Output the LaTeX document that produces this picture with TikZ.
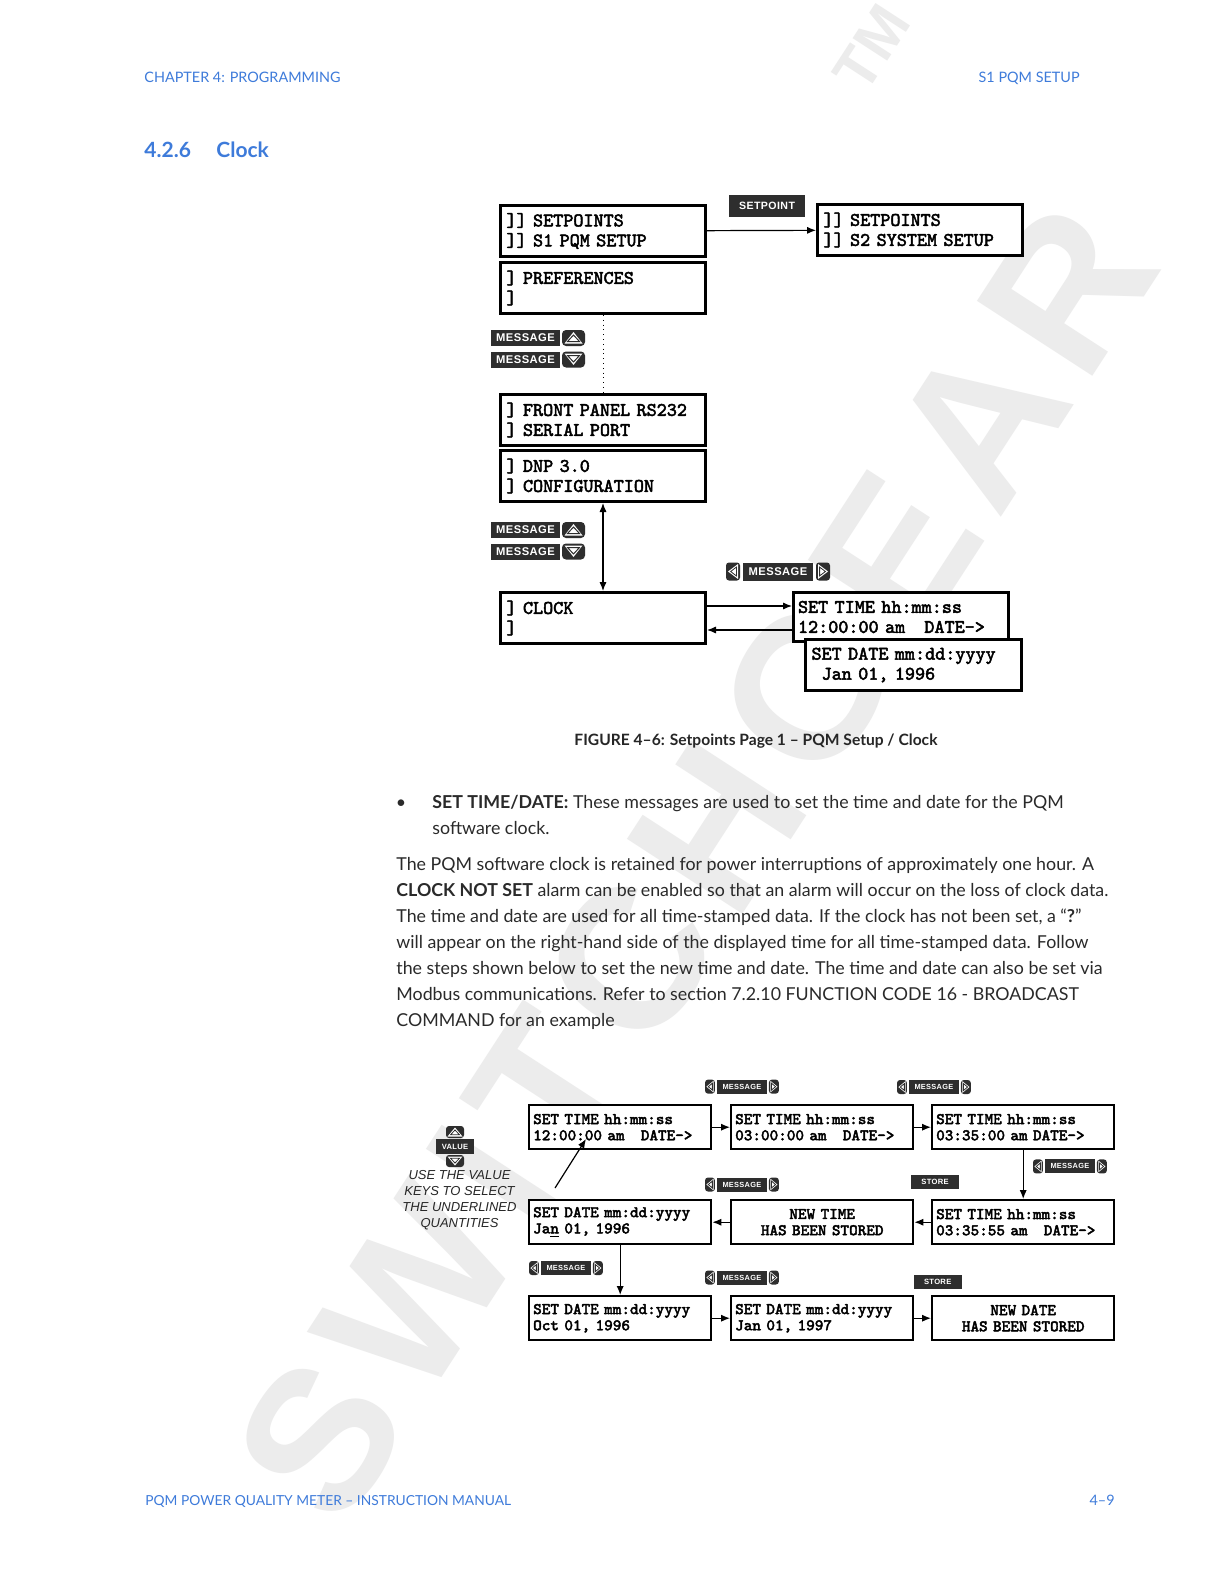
\documentclass[tikz,border=0pt]{standalone}
\usepackage{fontspec}
\setmainfont{Lato}
\newfontfamily\lcdfont{Latin Modern Mono}[FakeBold=2.6]
\newfontfamily\keyfont{Liberation Sans}[LetterSpace=4]
\newfontfamily\hintfont{Liberation Sans}
\usetikzlibrary{arrows.meta, positioning, calc}

\begin{document}
\begin{tikzpicture}[
    x=0.5pt, y=-0.5pt,
    every node/.style={inner sep=0pt},
    lcd/.style={draw=black, line width=1.5pt, fill=white, anchor=north west,
        align=left, font=\lcdfont\fontsize{9.6}{10}\selectfont,
        minimum width=102.5pt, minimum height=25.5pt, text width=96.5pt},
    lcdsmall/.style={lcd, line width=1.2pt,
        font=\lcdfont\fontsize{8.1}{8.1}\selectfont,
        minimum width=91pt, minimum height=22pt, text width=87pt},
    keylabel/.style={text=white, font=\keyfont\bfseries\fontsize{5.6}{5.6}\selectfont},
    keybox/.style={keylabel, fill=keyfill},
    arr/.style={line width=0.6pt, -{Latex[length=4.5pt, width=3.6pt]}},
    pagehead/.style={text=headblue, font=\fontsize{7.2}{9}\selectfont},
    body/.style={text=bodytext, font=\fontsize{8.9}{13}\selectfont},
]

\definecolor{headblue}{HTML}{3E7BDA}
\definecolor{keyfill}{HTML}{2E2E2E}
\definecolor{bodytext}{HTML}{2A2A2A}
\definecolor{wmgray}{HTML}{ECECEC}

% ================================================================
% Page in pixels of the 1224 x 1584 scan, y running down.
%   top figure    boxes x = 499 .. 704, keys to the left at x = 491
%   bottom figure three columns x = 528 / 730 / 931, rows y = 1104 / 1199 / 1295
% ================================================================

% MESSAGE up / down pair, #1 name, #2 x, #3 y of the upper label
\newcommand{\updownkeys}[3]{%
\begin{scope}[shift={(#2,#3)}]
  \foreach \k/\dy in {up/0, dn/21.5} {
    \fill[keyfill] (0,\dy) rectangle ++(69,16);
    \node[keylabel] (#1-\k) at (34.5,\dy+8) {MESSAGE};
    \fill[keyfill, rounded corners=2pt] (71,\dy) rectangle ++(23,16);
  }
  \fill[white] (73.5,13.5) -- (91.5,13.5) -- (82.5,2) -- cycle;
  \draw[keyfill, line width=0.5pt] (76.5,11.5) -- (88.5,11.5) -- (82.5,5) -- cycle;
  \fill[white] (73.5,23.5) -- (91.5,23.5) -- (82.5,35) -- cycle;
  \draw[keyfill, line width=0.5pt] (76.5,25.5) -- (88.5,25.5) -- (82.5,32) -- cycle;
\end{scope}}

% MESSAGE left / right key, #1 name, #2 x, #3 y, #4 scaling, #5 font size
\newcommand{\lrkeys}[5]{%
\begin{scope}[shift={(#2,#3)}, #4]
  \fill[keyfill, rounded corners=1.5pt] (0,0) rectangle (14,18);
  \fill[keyfill, rounded corners=1.5pt] (90,0) rectangle (104,18);
  \fill[keyfill] (17,0) rectangle (87,18);
  \fill[white] (2,9) -- (12,1.5) -- (12,16.5) -- cycle;
  \draw[keyfill, line width=0.4pt] (4.6,9) -- (10.4,4.6) -- (10.4,13.4) -- cycle;
  \fill[white] (102,9) -- (92,1.5) -- (92,16.5) -- cycle;
  \draw[keyfill, line width=0.4pt] (99.4,9) -- (93.6,4.6) -- (93.6,13.4) -- cycle;
  \node[keylabel, font=\keyfont\bfseries\fontsize{#5}{#5}\selectfont] (#1) at (52,9) {MESSAGE};
\end{scope}}

\fill[white] (0,0) rectangle (1224,1584);
\useasboundingbox (0,0) rectangle (1224,1584);

% ---------------------------------------------------------------- watermark
\node[rotate=57, text=wmgray,
      font=\hintfont\bfseries\fontsize{100}{100}\selectfont\addfontfeatures{LetterSpace=8}]
    (wmark) at (695,862) {SWITCHGEAR};
\node[rotate=57, text=wmgray, font=\hintfont\bfseries\fontsize{30}{30}\selectfont]
    (wmtm) at (872,48) {TM};

% ---------------------------------------------------------------- page head
\node[pagehead, anchor=base west] (chap) at (144,82.5) {CHAPTER 4: PROGRAMMING};
\node[pagehead, anchor=base east] (sect) at (1080,82.5) {S1 PQM SETUP};
\node[text=headblue, font=\bfseries\fontsize{10.5}{12}\selectfont, anchor=base west]
    (secnum) at (144,157.5) {4.2.6};
\node[text=headblue, font=\bfseries\fontsize{10.5}{12}\selectfont, anchor=base west]
    (sectitle) at (216,157.5) {Clock};

% ---------------------------------------------------------------- top figure
\node[lcd] (setp1) at (499,204) {]] SETPOINTS\\]] S1 PQM SETUP};
\node[lcd] (pref)  at (499,261) {] PREFERENCES\\]};
\node[lcd] (setp2) at (816,203) {]] SETPOINTS\\]] S2 SYSTEM SETUP};
\node[lcd] (front) at (499,393) {] FRONT PANEL RS232\\] SERIAL PORT};
\node[lcd] (dnp)   at (499,449) {] DNP 3.0\\] CONFIGURATION};
\node[lcd] (clock) at (499,591) {] CLOCK\\]};
\node[lcd, minimum width=107.5pt, minimum height=24.5pt, text width=103pt]
    (settime) at (792,591) {SET TIME hh:mm:ss\\12:00:00 am\ \ \ DATE->};
\node[lcd, minimum width=108pt, text width=102pt]
    (setdate) at (804,638) {SET DATE mm:dd:yyyy\\\phantom{J}Jan 01, 1996};

\node[keybox, minimum width=38pt, minimum height=11pt,
      font=\keyfont\bfseries\fontsize{5.3}{5.3}\selectfont] (setpkey) at (767,206) {SETPOINT};
\updownkeys{keysA}{491}{330}
\updownkeys{keysB}{491}{522}
\lrkeys{msgclock}{726}{562.5}{scale=1}{5.6}

\draw[arr] (setp1) -- (setp2);
\draw[line width=0.4pt, dotted] (pref) -- (front);
\draw[arr, {Latex[length=4.5pt, width=3.6pt]}-{Latex[length=4.5pt, width=3.6pt]}] (dnp) -- (clock);
\draw[arr] ([yshift=6pt]clock.east) -- ([yshift=6pt]clock.east -| settime.west);
\draw[arr] ([yshift=-6pt]clock.east -| settime.west) -- ([yshift=-6pt]clock.east);

\node[text=black!85, font=\bfseries\fontsize{7.8}{9}\selectfont, anchor=base]
    (caption) at (756,745.5) {FIGURE 4–6: Setpoints Page 1 – PQM Setup / Clock};

% ---------------------------------------------------------------- text
\node[body, anchor=base] (bullet) at (401,808) {\textbullet};
\node[body, anchor=north west, align=left] (bulletxt) at (432,795)
    {\textbf{SET TIME/DATE:} These messages are used to set the time and date for the PQM\\
     software clock.};
\node[body, anchor=north west, align=left] (para) at (396,857)
    {The PQM software clock is retained for power interruptions of approximately one hour. A\\
     \textbf{CLOCK NOT SET} alarm can be enabled so that an alarm will occur on the loss of clock data.\\
     The time and date are used for all time-stamped data. If the clock has not been set, a “\textbf{?}”\\
     will appear on the right-hand side of the displayed time for all time-stamped data. Follow\\
     the steps shown below to set the new time and date. The time and date can also be set via\\
     Modbus communications. Refer to section 7.2.10 FUNCTION CODE 16 - BROADCAST\\
     COMMAND for an example};

% ---------------------------------------------------------------- bottom figure
\node[lcdsmall] (tA) at (528,1104) {SET TIME hh:mm:ss\\12:00:00 am\ \ \ DATE->};
\node[lcdsmall] (tB) at (730,1104) {SET TIME hh:mm:ss\\03:00:00 am\ \ \ DATE->};
\node[lcdsmall] (tC) at (931,1104) {SET TIME hh:mm:ss\\03:35:00 am DATE->};
\node[lcdsmall] (dD) at (528,1199) {SET DATE mm:dd:yyyy\\Ja\underline{n} 01, 1996};
\node[lcdsmall, align=center] (tE) at (730,1199) {NEW TIME\\HAS BEEN STORED};
\node[lcdsmall] (tF) at (931,1199) {SET TIME hh:mm:ss\\03:35:55 am\ \ \ DATE->};
\node[lcdsmall] (dG) at (528,1295) {SET DATE mm:dd:yyyy\\Oct 01, 1996};
\node[lcdsmall] (dH) at (730,1295) {SET DATE mm:dd:yyyy\\Jan 01, 1997};
\node[lcdsmall, align=center] (dI) at (931,1295) {NEW DATE\\HAS BEEN STORED};

\draw[arr] (tA) -- (tB);
\draw[arr] (tB) -- (tC);
\draw[arr] (tC) -- (tF);
\draw[arr] (tF) -- (tE);
\draw[arr] (tE) -- (dD);
\draw[arr] (dD) -- (dG);
\draw[arr] (dG) -- (dH);
\draw[arr] (dH) -- (dI);

\lrkeys{msgAB}{705}{1079.6}{xscale=0.71, yscale=0.78}{3.7}
\lrkeys{msgBC}{897}{1080}{xscale=0.71, yscale=0.78}{3.7}
\lrkeys{msgCF}{1033}{1159.4}{xscale=0.71, yscale=0.78}{3.7}
\lrkeys{msgFE}{705}{1177.5}{xscale=0.71, yscale=0.78}{3.7}
\lrkeys{msgDG}{529}{1261}{xscale=0.71, yscale=0.78}{3.7}
\lrkeys{msgGH}{705}{1270.5}{xscale=0.71, yscale=0.78}{3.7}

\node[keybox, minimum width=24pt, minimum height=7pt,
      font=\keyfont\bfseries\fontsize{3.8}{3.8}\selectfont] (store1) at (935,1181.6) {STORE};
\node[keybox, minimum width=24pt, minimum height=7pt,
      font=\keyfont\bfseries\fontsize{3.8}{3.8}\selectfont] (store2) at (937.7,1281.5) {STORE};

% value keys and the hint
\node[keybox, minimum width=19pt, minimum height=7.5pt,
      font=\keyfont\bfseries\fontsize{3.8}{3.8}\selectfont] (valkey) at (455,1146.5) {VALUE};
\fill[keyfill, rounded corners=1.5pt] (446,1126) rectangle (464,1138);
\fill[white] (447.5,1136.5) -- (462.5,1136.5) -- (455,1127.5) -- cycle;
\draw[keyfill, line width=0.4pt] (450.5,1134.8) -- (459.5,1134.8) -- (455,1130) -- cycle;
\fill[keyfill, rounded corners=1.5pt] (446,1155) rectangle (464,1167);
\fill[white] (447.5,1156.5) -- (462.5,1156.5) -- (455,1165.5) -- cycle;
\draw[keyfill, line width=0.4pt] (450.5,1158.2) -- (459.5,1158.2) -- (455,1163) -- cycle;

\node[text=black!85, font=\hintfont\itshape\fontsize{6.5}{7.9}\selectfont, align=center]
    (valhint) at (459.5,1200) {USE THE VALUE\\KEYS TO SELECT\\THE UNDERLINED\\QUANTITIES};

\coordinate (hintfrom) at (555,1188);
\coordinate (hintto) at (586,1139);
\draw[arr] (hintfrom) -- (hintto);

% ---------------------------------------------------------------- page foot
\node[pagehead, font=\fontsize{6.9}{9}\selectfont, anchor=base west] (foot) at (145,1505.5)
    {PQM POWER QUALITY METER – INSTRUCTION MANUAL};
\node[pagehead, anchor=base east] (pagenum) at (1115,1505.5) {4–9};

\end{tikzpicture}
\end{document}
